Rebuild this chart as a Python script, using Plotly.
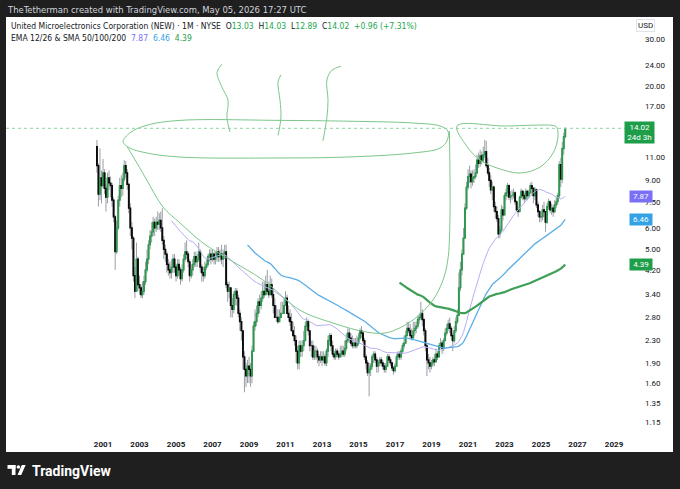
import math
import pandas as pd
import plotly.graph_objects as go

W, H = 680, 489

# monthly candles, Sep 2000 -> May 2026 (open = previous close)
first_open = 12.0
closes = [
    10.2, 8.0, 9.2, 8.6,                                                    # 2000 (Sep-Dec)
    9.6, 8.4, 7.8, 9.2, 8.8, 8.6, 7.6, 6.6, 4.9, 6.0, 7.6, 8.6,             # 2001
    8.4, 9.1, 10.2, 9.6, 8.7, 7.1, 6.0, 5.5, 4.0, 3.5, 4.6, 3.7,            # 2002
    3.6, 3.4, 3.5, 3.8, 4.2, 4.6, 5.2, 5.6, 5.8, 6.3, 6.0, 6.3,             # 2003
    6.2, 6.4, 6.0, 5.4, 5.0, 4.8, 4.4, 4.2, 4.1, 4.3, 4.6, 4.3,             # 2004
    4.0, 4.4, 4.2, 3.9, 4.2, 4.6, 4.9, 4.8, 4.5, 4.0, 4.2, 4.4,             # 2005
    4.7, 4.5, 4.6, 4.9, 4.3, 4.1, 4.0, 4.3, 4.4, 4.7, 4.8, 4.6,             # 2006
    4.8, 4.6, 4.7, 4.9, 4.7, 4.8, 4.6, 4.8, 4.9, 3.7, 3.5, 3.6,             # 2007
    3.1, 3.0, 3.4, 3.5, 3.3, 2.9, 2.7, 2.5, 2.0, 1.8, 1.7, 1.85,            # 2008
    1.8, 1.7, 2.1, 2.6, 2.7, 2.9, 3.2, 3.1, 3.3, 3.5, 3.4, 3.7,             # 2009
    3.5, 3.4, 3.7, 3.4, 3.1, 2.8, 2.8, 2.7, 2.8, 2.9, 2.9, 3.1,             # 2010
    3.3, 2.9, 2.8, 2.7, 2.5, 2.4, 2.3, 2.1, 1.9, 2.2, 2.1, 2.2,             # 2011
    2.3, 2.6, 2.7, 2.5, 2.2, 2.2, 2.0, 2.1, 2.1, 2.0, 1.95, 2.0,            # 2012
    1.95, 2.0, 1.9, 2.1, 2.3, 2.4, 2.2, 2.05, 2.0, 2.1, 2.05, 2.0,          # 2013
    2.05, 2.1, 2.05, 2.15, 2.3, 2.45, 2.35, 2.25, 2.2, 2.25, 2.2, 2.25,     # 2014
    2.35, 2.5, 2.45, 2.3, 2.0, 1.9, 1.75, 1.8, 1.85, 2.0, 2.05, 1.95,       # 2015
    1.85, 1.9, 1.95, 1.9, 1.85, 1.8, 1.85, 2.0, 1.95, 1.9, 1.82, 1.78,      # 2016
    1.85, 2.0, 2.05, 2.0, 2.1, 2.2, 2.25, 2.4, 2.55, 2.5, 2.4, 2.35,        # 2017
    2.5, 2.55, 2.6, 2.75, 2.8, 2.9, 2.75, 2.5, 2.2, 1.95, 1.9, 1.85,        # 2018
    1.9, 1.95, 1.92, 2.05, 2.0, 2.2, 2.25, 2.15, 2.3, 2.45, 2.55, 2.65,     # 2019
    2.55, 2.4, 2.3, 2.5, 2.7, 2.85, 3.6, 4.2, 4.8, 5.5, 7.1, 8.5,           # 2020
    9.3, 9.5, 8.9, 9.2, 9.3, 9.6, 10.7, 10.4, 11.1, 10.7, 11.2, 11.5,       # 2021
    10.2, 9.6, 9.0, 8.3, 8.5, 7.2, 6.9, 6.5, 5.7, 5.9, 7.0, 6.7,            # 2022
    7.9, 8.1, 8.6, 7.8, 7.9, 7.9, 8.1, 7.5, 7.0, 6.9, 7.8, 8.2,             # 2023
    7.9, 7.7, 8.2, 7.9, 8.1, 8.6, 8.4, 7.9, 8.3, 7.3, 6.9, 6.6,             # 2024
    6.6, 7.0, 6.9, 6.3, 7.2, 7.5, 7.0, 7.1, 6.9, 7.3, 7.5, 7.9,             # 2025
    10.3, 9.1, 11.8, 13.06, 14.02,                                          # 2026
]
highs = [
    12.7, 10.4, 11.8, 9.8,
    10.8, 9.9, 8.7, 9.6, 9.8, 9.3, 8.8, 7.8, 6.7, 6.4, 7.9, 9.2,
    9.4, 9.6, 10.7, 10.6, 9.9, 8.8, 7.4, 6.3, 5.6, 4.3, 5.3, 4.7,
    4.0, 3.7, 3.8, 4.0, 4.5, 5.0, 5.4, 5.9, 6.3, 6.6, 6.5, 6.6,
    6.9, 6.8, 6.9, 7.1, 5.6, 5.2, 4.9, 4.6, 4.5, 4.6, 4.8, 4.8,
    4.4, 4.6, 4.6, 4.3, 4.4, 4.8, 5.3, 5.4, 4.9, 4.6, 4.4, 4.6,
    4.9, 4.9, 4.8, 5.3, 5.0, 4.4, 4.3, 4.5, 4.6, 4.8, 5.0, 5.0,
    5.0, 4.9, 4.9, 5.1, 5.1, 5.0, 5.2, 5.0, 5.2, 5.2, 3.8, 3.8,
    3.6, 3.3, 3.5, 3.6, 3.6, 3.4, 3.0, 2.8, 2.5, 2.1, 1.9, 1.95,
    2.0, 1.9, 2.2, 2.7, 3.0, 3.1, 3.3, 3.4, 3.5, 3.8, 3.8, 4.0,
    4.2, 3.8, 4.0, 3.9, 3.6, 3.3, 3.1, 3.0, 3.0, 3.2, 3.2, 3.3,
    3.5, 3.4, 3.1, 3.0, 2.9, 2.7, 2.6, 2.4, 2.2, 2.3, 2.3, 2.3,
    2.5, 2.7, 2.8, 2.75, 2.5, 2.3, 2.3, 2.2, 2.2, 2.15, 2.05, 2.1,
    2.1, 2.1, 2.05, 2.15, 2.4, 2.45, 2.45, 2.3, 2.1, 2.15, 2.15, 2.1,
    2.2, 2.2, 2.2, 2.3, 2.45, 2.55, 2.55, 2.45, 2.4, 2.35, 2.35, 2.4,
    2.45, 2.55, 2.6, 2.5, 2.35, 2.05, 1.95, 1.9, 1.9, 2.05, 2.1, 2.1,
    2.0, 1.95, 2.0, 2.0, 1.95, 1.9, 1.9, 2.05, 2.05, 2.0, 1.92, 1.85,
    1.9, 2.05, 2.1, 2.1, 2.15, 2.25, 2.4, 2.5, 2.7, 2.7, 2.65, 2.55,
    2.7, 2.7, 2.7, 2.85, 2.9, 3.2, 3.0, 2.8, 2.55, 2.25, 2.05, 2.0,
    1.95, 2.0, 2.05, 2.15, 2.1, 2.25, 2.35, 2.3, 2.35, 2.55, 2.65, 2.75,
    2.8, 2.6, 2.45, 2.6, 2.8, 3.0, 4.1, 4.5, 5.0, 6.0, 7.4, 8.9,
    9.9, 10.2, 9.8, 9.8, 9.9, 10.3, 11.2, 11.4, 11.7, 11.5, 12.0, 12.7,
    12.6, 10.9, 10.0, 9.4, 8.9, 8.6, 7.5, 7.2, 6.7, 6.1, 7.3, 7.2,
    8.1, 8.4, 8.8, 8.7, 8.2, 8.3, 8.4, 8.2, 7.6, 7.2, 7.9, 8.4,
    8.3, 8.1, 8.4, 8.3, 8.3, 8.8, 8.9, 8.5, 8.5, 8.4, 7.5, 7.0,
    6.9, 7.3, 7.5, 6.9, 7.4, 7.7, 7.6, 7.4, 7.3, 7.6, 7.8, 8.1,
    10.6, 10.9, 12.5, 13.5, 14.03,
]
lows = [
    9.6, 7.2, 7.6, 7.4,
    8.4, 8.0, 6.9, 7.4, 8.3, 7.8, 7.2, 6.3, 4.2, 4.8, 5.9, 7.2,
    7.8, 7.9, 8.9, 9.2, 8.3, 6.8, 5.6, 5.0, 3.8, 3.3, 3.5, 3.5,
    3.4, 3.3, 3.3, 3.4, 3.7, 4.1, 4.4, 5.0, 5.3, 5.6, 5.6, 5.8,
    5.9, 5.9, 5.8, 5.2, 4.6, 4.5, 4.1, 4.0, 3.9, 3.9, 4.1, 4.1,
    3.8, 3.9, 4.0, 3.7, 3.8, 4.1, 4.5, 4.6, 4.3, 3.8, 3.9, 4.0,
    4.3, 4.3, 4.3, 4.5, 4.1, 3.8, 3.8, 3.9, 4.2, 4.3, 4.5, 4.4,
    4.5, 4.4, 4.4, 4.5, 4.5, 4.5, 4.4, 4.3, 4.6, 3.6, 3.2, 3.3,
    2.8, 2.8, 2.9, 3.1, 3.1, 2.8, 2.5, 2.3, 1.8, 1.48, 1.55, 1.6,
    1.6, 1.55, 1.6, 2.1, 2.5, 2.6, 2.8, 2.9, 3.0, 3.2, 3.3, 3.5,
    3.4, 3.3, 3.4, 3.3, 2.9, 2.8, 2.7, 2.65, 2.7, 2.8, 2.9, 2.9,
    3.1, 2.9, 2.7, 2.6, 2.5, 2.4, 2.2, 1.9, 1.8, 1.8, 2.0, 2.0,
    2.1, 2.3, 2.5, 2.4, 2.1, 2.0, 1.95, 1.95, 1.95, 1.9, 1.85, 1.9,
    1.85, 1.9, 1.85, 1.85, 2.0, 2.2, 2.1, 2.0, 1.95, 1.95, 2.0, 1.95,
    2.0, 2.0, 2.0, 2.0, 2.1, 2.25, 2.25, 2.2, 2.15, 2.15, 2.15, 2.15,
    2.2, 2.3, 2.35, 2.25, 1.95, 1.8, 1.7, 1.43, 1.7, 1.8, 1.9, 1.9,
    1.75, 1.75, 1.85, 1.85, 1.8, 1.75, 1.75, 1.85, 1.9, 1.85, 1.78, 1.72,
    1.75, 1.85, 1.95, 1.95, 1.95, 2.05, 2.15, 2.25, 2.4, 2.45, 2.35, 2.3,
    2.4, 2.4, 2.45, 2.55, 2.65, 2.75, 2.6, 2.4, 2.1, 1.7, 1.8, 1.75,
    1.8, 1.85, 1.85, 1.9, 1.95, 2.0, 2.15, 2.05, 2.1, 2.3, 2.4, 2.5,
    2.45, 2.3, 2.1, 2.25, 2.45, 2.65, 2.85, 3.5, 4.0, 4.8, 5.5, 7.0,
    8.3, 8.8, 8.4, 8.6, 8.8, 9.1, 9.5, 10.0, 10.1, 10.3, 10.5, 10.9,
    10.0, 9.4, 8.5, 8.0, 7.6, 6.9, 6.5, 6.3, 5.5, 5.5, 5.8, 6.4,
    6.7, 7.6, 7.8, 7.6, 7.4, 7.6, 7.7, 7.3, 6.9, 6.6, 6.9, 7.7,
    7.6, 7.4, 7.6, 7.6, 7.7, 8.0, 7.9, 7.4, 7.6, 7.1, 6.6, 6.3,
    6.3, 6.4, 6.6, 5.8, 6.2, 7.0, 6.8, 6.7, 6.6, 6.8, 7.1, 7.3,
    7.7, 8.5, 8.8, 11.2, 12.89,
]

year_ticks = list(range(2001, 2030, 2))
price_ticks = [1.15, 1.35, 1.60, 1.90, 2.30, 2.80, 3.40, 4.20, 5.00, 6.00,
               7.50, 9.00, 11.00, 17.00, 20.00, 24.00, 30.00]

ma_periods = [50, 100, 200]
ma_colors = ["#b6aef3", "#5aaee6", "#3f9f57"]
ma_widths = [1, 1.3, 2.2]
ma_label_colors = ["#7a6ff5", "#33a3e6", "#1f9e4a"]

# hand drawn sketch (decimal year, price)
sketch_rim = [(2002.10, 12.5), (2002.48, 13.5), (2003.41, 14.4), (2005.22, 15.0),
              (2010.70, 15.0), (2014.37, 14.9), (2017.99, 14.67), (2019.47, 14.3),
              (2019.90, 13.7), (2019.85, 12.6), (2019.47, 11.85), (2017.99, 11.36),
              (2014.37, 10.98), (2010.70, 10.89), (2005.22, 10.98), (2003.41, 11.36),
              (2002.48, 11.85), (2002.10, 12.5)]
sketch_cup = [(2002.32, 12.0), (2002.86, 10.43), (2003.41, 9.0), (2004.29, 7.17),
              (2005.22, 6.26), (2006.48, 5.28), (2007.96, 4.57), (2009.77, 3.85),
              (2011.79, 2.98), (2013.60, 2.67), (2015.47, 2.47), (2016.56, 2.46),
              (2017.99, 2.74), (2019.08, 3.25), (2019.63, 3.85), (2019.90, 4.6),
              (2020.01, 6.4), (2020.01, 9.8), (2019.98, 13.7)]
sketch_handle = [(2020.40, 14.3), (2023.0, 14.3), (2025.77, 14.3), (2025.88, 14.06),
                 (2025.93, 13.0), (2025.66, 11.36), (2024.95, 10.08), (2023.85, 9.58),
                 (2022.59, 10.0), (2021.66, 10.7), (2020.95, 12.0), (2020.40, 14.3)]
sketch_steam = [
    [(2007.52, 24.2), (2007.25, 22.6), (2007.52, 19.9), (2007.85, 17.8), (2007.79, 15.4), (2007.96, 13.6)],
    [(2010.75, 22.1), (2010.59, 20.8), (2010.70, 17.8), (2010.75, 15.4), (2010.59, 13.2)],
    [(2014.04, 23.8), (2013.55, 23.0), (2013.27, 21.2), (2013.33, 17.8), (2013.27, 15.4), (2013.05, 12.6)],
]

UP = "#2b9a4c"
DOWN = "#0b0b0b"
WICK = "#9a9ea6"
SKETCH = "#7cc68a"
FONT = "Roboto"
NARROW = "'Liberation Sans Narrow', 'DejaVu Sans Condensed', 'Roboto Condensed', Roboto"


def yr(t):
    return pd.Timestamp("2000-01-01") + pd.Timedelta(days=(t - 2000) * 365.25)


def px(x):
    return x / W


def py(y):
    return 1 - y / H


dates = pd.date_range("2000-09-01", periods=len(closes), freq="MS")
df = pd.DataFrame({"close": closes, "high": highs, "low": lows}, index=dates)
df["open"] = [first_open] + closes[:-1]
df["high"] = df[["high", "open", "close"]].max(axis=1)
df["low"] = df[["low", "open", "close"]].min(axis=1)
df["top"] = df[["open", "close"]].max(axis=1)
df["bot"] = df[["open", "close"]].min(axis=1)

fig = go.Figure()

# moving averages
ma_last = []
for n, col, w in zip(ma_periods, ma_colors, ma_widths):
    sma = df["close"].rolling(n).mean()
    ma_last.append(sma.iloc[-1])
    fig.add_trace(go.Scatter(x=dates, y=sma, mode="lines",
                             line=dict(color=col, width=w), hoverinfo="skip"))

# wicks, then bodies on top
fig.add_trace(go.Candlestick(
    x=dates, open=df["open"], high=df["high"], low=df["low"], close=df["close"],
    increasing=dict(line=dict(color=WICK, width=1), fillcolor=WICK),
    decreasing=dict(line=dict(color=WICK, width=1), fillcolor=WICK),
    hoverinfo="skip"))
fig.add_trace(go.Candlestick(
    x=dates, open=df["open"], high=df["top"], low=df["bot"], close=df["close"],
    increasing=dict(line=dict(color=UP, width=1.2), fillcolor=UP),
    decreasing=dict(line=dict(color=DOWN, width=1.2), fillcolor=DOWN),
    hoverinfo="skip"))

# sketch
for path in [sketch_rim, sketch_cup, sketch_handle] + sketch_steam:
    fig.add_trace(go.Scatter(x=[yr(t) for t, _ in path], y=[p for _, p in path],
                             mode="lines", line=dict(color=SKETCH, width=1, shape="spline"),
                             hoverinfo="skip"))

x_range = [yr(1995.685), yr(2030.315)]
last = closes[-1]
fig.add_trace(go.Scatter(x=x_range, y=[last, last], mode="lines",
                         line=dict(color="#8fd3a6", width=1, dash="dot"), hoverinfo="skip"))

fig.update_layout(
    width=W, height=H, margin=dict(l=0, r=0, t=0, b=0),
    paper_bgcolor="#1f1f1f", plot_bgcolor="white", showlegend=False,
    font=dict(family=FONT, size=8, color="#131722"),
    xaxis=dict(type="date", range=x_range, domain=[px(6), px(638)],
               tickvals=[pd.Timestamp(f"{y}-01-01") for y in year_ticks],
               ticktext=[f"<b>{y}</b>" for y in year_ticks],
               tickfont=dict(size=8, color="#131722"),
               showgrid=False, zeroline=False, showline=False, ticks="",
               rangeslider=dict(visible=False), ticklabelstandoff=4),
    yaxis=dict(type="log", side="right",
               range=[math.log10(1.0375), math.log10(35.88)],
               domain=[py(434), py(18)],
               tickvals=price_ticks, ticktext=[f"{v:.2f}" for v in price_ticks],
               tickfont=dict(size=8, color="#131722"),
               showgrid=False, zeroline=False, showline=False, ticks="",
               ticklabelstandoff=6),
)

# white chart panel
fig.add_shape(type="rect", xref="paper", yref="paper", x0=px(6), x1=px(673),
              y0=py(452), y1=py(17), fillcolor="white", line_width=0, layer="below")

# TradingView logo mark
fig.add_shape(type="rect", xref="paper", yref="paper", x0=px(7.5), x1=px(15.5),
              y0=py(468.8), y1=py(465), fillcolor="white", line_width=0)
fig.add_shape(type="rect", xref="paper", yref="paper", x0=px(11.8), x1=px(15.5),
              y0=py(475), y1=py(465), fillcolor="white", line_width=0)
fig.add_shape(type="circle", xref="paper", yref="paper", x0=px(16.6), x1=px(20.2),
              y0=py(468.8), y1=py(465.2), fillcolor="white", line_width=0)
fig.add_shape(type="path", xref="paper", yref="paper",
              path=f"M {px(17.5)} {py(475)} L {px(21.8)} {py(465)} L {px(25.6)} {py(465)} "
                   f"L {px(21.3)} {py(475)} Z",
              fillcolor="white", line_width=0)

green = "#22a650"
row1 = ("United Microelectronics Corporation (NEW) · 1M · NYSE  "
        f"O<span style='color:{green}'>13.03</span>  H<span style='color:{green}'>14.03</span>  "
        f"L<span style='color:{green}'>12.89</span>  C<span style='color:{green}'>14.02</span>  "
        f"<span style='color:{green}'>+0.96 (+7.31%)</span>")
row2 = ("EMA 12/26 & SMA 50/100/200  "
        + "  ".join(f"<span style='color:{c}'>{v:.2f}</span>"
                    for c, v in zip(ma_label_colors, ma_last)))

notes = [
    dict(x=px(5), y=py(9), text="TheTetherman created with TradingView.com, May 05, 2026 17:27 UTC",
         font=dict(size=9.4, color="#d1d4dc", family=NARROW)),
    dict(x=px(9), y=py(26.5), text=row1, font=dict(size=8.5, color="#131722", family=NARROW)),
    dict(x=px(9), y=py(37.5), text=row2, font=dict(size=8.5, color="#131722", family=NARROW)),
    dict(x=px(30), y=py(471), text="<b>TradingView</b>", font=dict(size=14, color="white")),
]
for n in notes:
    fig.add_annotation(xref="paper", yref="paper", xanchor="left", yanchor="middle",
                       showarrow=False, **n)

fig.add_annotation(xref="paper", yref="paper", x=px(655), y=py(25), yanchor="middle",
                   text="USD", showarrow=False, bgcolor="white", bordercolor="#e0e3eb",
                   borderwidth=1, borderpad=1, font=dict(size=8, color="#131722"))

for v, c in zip(ma_last, ma_label_colors):
    fig.add_annotation(xref="paper", yref="y", x=px(652.5), y=math.log10(v),
                       text=f"{v:.2f}", showarrow=False, bgcolor=c, borderpad=1,
                       font=dict(size=8, color="white"), width=20)

fig.add_annotation(xref="paper", yref="y", x=px(655), y=math.log10(last), yanchor="top",
                   yshift=7, text=f"{last:.2f}<br>24d 3h", showarrow=False, bgcolor="#1f9e4a",
                   borderpad=1, font=dict(size=8, color="white"), width=27)

fig.write_html("out.html", config={"displayModeBar": False},
               post_script="document.body.style.margin='0';")
